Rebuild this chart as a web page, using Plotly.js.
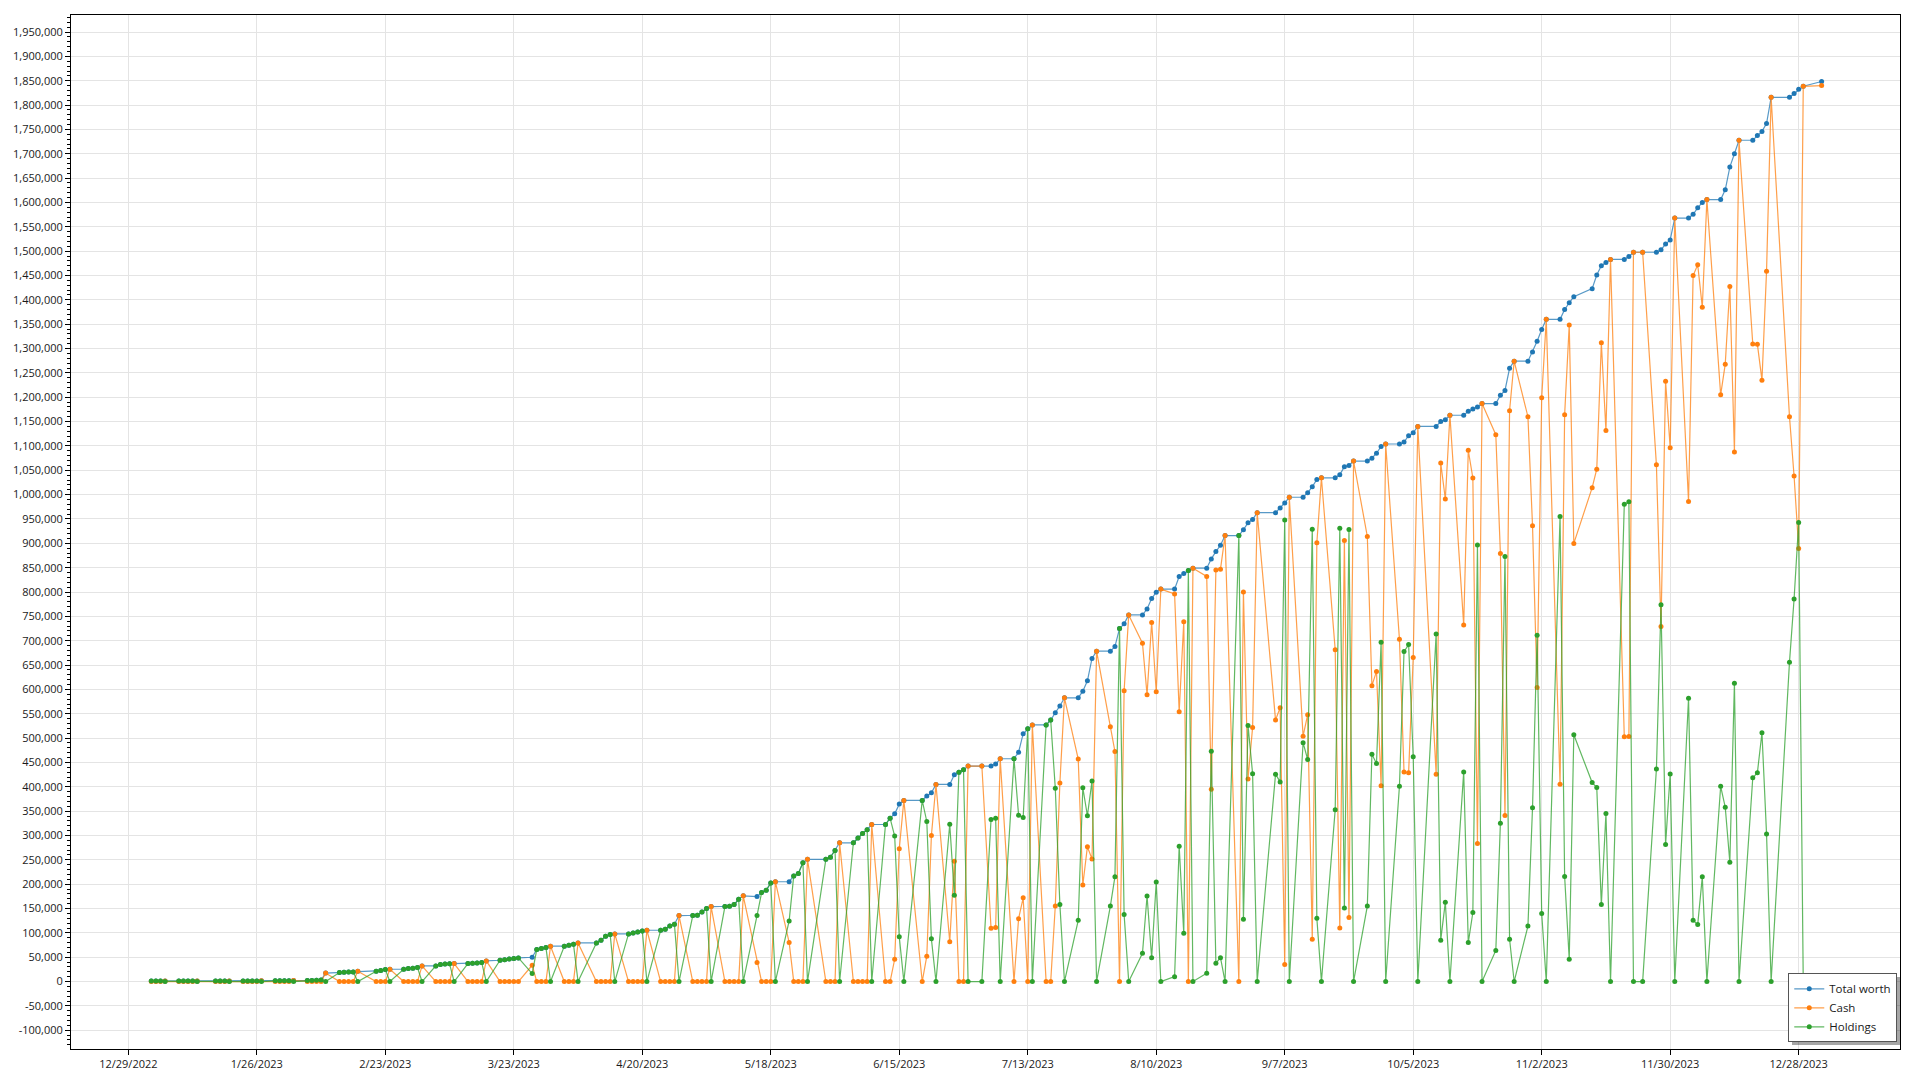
<!DOCTYPE html>
<html>
<head>
<meta charset="utf-8">
<script src="https://cdn.plot.ly/plotly-3.0.1.min.js"></script>
<style>
html,body{margin:0;padding:0;background:#fff;}
#chart{width:1920px;height:1080px;}
</style>
</head>
<body>
<div id="chart"></div>
<script>
// ---- Data ----
const dates = [
 // Jan 2023
 '2023-01-03','2023-01-04','2023-01-05','2023-01-06','2023-01-09','2023-01-10','2023-01-11','2023-01-12','2023-01-13','2023-01-17','2023-01-18','2023-01-19','2023-01-20','2023-01-23','2023-01-24','2023-01-25','2023-01-26','2023-01-27','2023-01-30','2023-01-31',
 // Feb
 '2023-02-01','2023-02-02','2023-02-03','2023-02-06','2023-02-07','2023-02-08','2023-02-09','2023-02-10','2023-02-13','2023-02-14','2023-02-15','2023-02-16','2023-02-17','2023-02-21','2023-02-22','2023-02-23','2023-02-24','2023-02-27','2023-02-28',
 // Mar
 '2023-03-01','2023-03-02','2023-03-03','2023-03-06','2023-03-07','2023-03-08','2023-03-09','2023-03-10','2023-03-13','2023-03-14','2023-03-15','2023-03-16','2023-03-17','2023-03-20','2023-03-21','2023-03-22','2023-03-23','2023-03-24','2023-03-27','2023-03-28','2023-03-29','2023-03-30','2023-03-31',
 // Apr
 '2023-04-03','2023-04-04','2023-04-05','2023-04-06','2023-04-10','2023-04-11','2023-04-12','2023-04-13','2023-04-14','2023-04-17','2023-04-18','2023-04-19','2023-04-20','2023-04-21','2023-04-24','2023-04-25','2023-04-26','2023-04-27','2023-04-28',
 // May
 '2023-05-01','2023-05-02','2023-05-03','2023-05-04','2023-05-05','2023-05-08','2023-05-09','2023-05-10','2023-05-11','2023-05-12','2023-05-15','2023-05-16','2023-05-17','2023-05-18','2023-05-19','2023-05-22','2023-05-23','2023-05-24','2023-05-25','2023-05-26','2023-05-30','2023-05-31',
 // Jun
 '2023-06-01','2023-06-02','2023-06-05','2023-06-06','2023-06-07','2023-06-08','2023-06-09','2023-06-12','2023-06-13','2023-06-14','2023-06-15','2023-06-16','2023-06-20','2023-06-21','2023-06-22','2023-06-23','2023-06-26','2023-06-27','2023-06-28','2023-06-29','2023-06-30',
 // Jul
 '2023-07-03','2023-07-05','2023-07-06','2023-07-07','2023-07-10','2023-07-11','2023-07-12','2023-07-13','2023-07-14','2023-07-17','2023-07-18','2023-07-19','2023-07-20','2023-07-21','2023-07-24','2023-07-25','2023-07-26','2023-07-27','2023-07-28','2023-07-31',
 // Aug
 '2023-08-01','2023-08-02','2023-08-03','2023-08-04','2023-08-07','2023-08-08','2023-08-09','2023-08-10','2023-08-11','2023-08-14','2023-08-15','2023-08-16','2023-08-17','2023-08-18','2023-08-21','2023-08-22','2023-08-23','2023-08-24','2023-08-25','2023-08-28','2023-08-29','2023-08-30','2023-08-31',
 // Sep
 '2023-09-01','2023-09-05','2023-09-06','2023-09-07','2023-09-08','2023-09-11','2023-09-12','2023-09-13','2023-09-14','2023-09-15','2023-09-18','2023-09-19','2023-09-20','2023-09-21','2023-09-22','2023-09-25','2023-09-26','2023-09-27','2023-09-28','2023-09-29',
 // Oct
 '2023-10-02','2023-10-03','2023-10-04','2023-10-05','2023-10-06','2023-10-10','2023-10-11','2023-10-12','2023-10-13','2023-10-16','2023-10-17','2023-10-18','2023-10-19','2023-10-20','2023-10-23','2023-10-24','2023-10-25','2023-10-26','2023-10-27','2023-10-30','2023-10-31',
 // Nov
 '2023-11-01','2023-11-02','2023-11-03','2023-11-06','2023-11-07','2023-11-08','2023-11-09','2023-11-13','2023-11-14','2023-11-15','2023-11-16','2023-11-17','2023-11-20','2023-11-21','2023-11-22','2023-11-24','2023-11-27','2023-11-28','2023-11-29','2023-11-30',
 // Dec + Jan 2024
 '2023-12-01','2023-12-04','2023-12-05','2023-12-06','2023-12-07','2023-12-08','2023-12-11','2023-12-12','2023-12-13','2023-12-14','2023-12-15','2023-12-18','2023-12-19','2023-12-20','2023-12-21','2023-12-22','2023-12-26','2023-12-27','2023-12-28','2023-12-29','2024-01-02'
];

const totalWorth = [
 1000,1005,1010,1020,1030,1050,1060,1080,1100,1120,1150,1180,1200,1250,1300,1350,1400,1500,1600,1700,
 1800,1900,2000,2200,2400,2700,3000,17500,18500,19200,19500,19800,21200,21200,22600,24600,25300,25300,26700,
 27400,28700,32200,32200,34900,36300,36500,37000,37000,37600,38300,39000,42400,43800,45000,46500,47600,48600,49900,65700,67800,69800,72600,
 72600,74600,76700,79400,79400,84900,93100,96500,97900,97900,99900,102000,104000,105400,105400,107500,114300,117700,135500,
 135500,136200,143000,150000,154000,154000,154700,158000,169000,176000,174500,182800,187500,202600,205000,205000,217000,221800,244000,251000,251000,255500,
 269000,285000,285000,295000,304000,312000,322600,322600,335600,344500,364400,372000,372000,381000,387700,404800,404800,424700,430000,435000,442500,
 442500,442500,446600,457600,457600,471000,509000,519000,527000,527000,537000,552000,566000,582800,582800,596400,617600,663500,678500,678500,
 688000,725000,734600,753000,753000,765000,786600,799600,806000,806000,832000,838000,844000,849000,849000,868000,883000,896000,916000,916000,928000,942000,949000,
 963000,963000,972500,983000,994600,994600,1004000,1016000,1031000,1034600,1034600,1041000,1057000,1060000,1069000,1069000,1074700,1085000,1099000,1104000,
 1104000,1108000,1121000,1127000,1140000,1140000,1150000,1154000,1163000,1163000,1171000,1176000,1180000,1187000,1187000,1204000,1214000,1259500,1274000,1274000,1293000,
 1315000,1339000,1360000,1360000,1380000,1394000,1406500,1423000,1451000,1470000,1476700,1483000,1483000,1489000,1497800,1497800,1497800,1503000,1514500,1523000,
 1568000,1568000,1575700,1589000,1600000,1606000,1606000,1626000,1672600,1700000,1727800,1727800,1737600,1746000,1762000,1816000,1816000,1824000,1832500,1838600,1848500
];

const cash = [
 0,0,0,1020,0,0,0,0,1100,0,0,0,1200,0,0,0,0,1500,0,0,
 0,0,2000,0,0,0,0,17500,0,0,0,0,21200,0,0,0,25300,0,0,
 0,0,32200,0,0,0,0,37000,0,0,0,0,42400,0,0,0,0,0,33500,0,0,0,72600,
 0,0,0,79400,0,0,0,0,97900,0,0,0,0,105400,0,0,0,0,135500,
 0,0,0,0,154000,0,0,0,0,176000,39000,0,0,0,205000,80400,0,0,0,251000,0,0,
 0,285000,0,0,0,0,322600,0,0,45800,272600,372000,0,52200,300000,404800,81800,247300,0,0,442500,
 442500,109500,111000,457600,0,129200,172000,0,527000,0,0,155000,408000,582800,457000,198400,277000,251700,678500,523500,
 472500,0,597100,753000,695000,589200,737600,595100,806000,796000,554000,739000,0,849000,832000,395000,845400,847000,916000,0,800000,416000,522000,
 963000,537000,562500,35000,994600,504000,548000,87000,901000,1034600,681600,110000,906000,131500,1069000,914000,607700,637000,402000,1104000,
 703000,430300,429000,665500,1140000,426000,1065000,991000,1163000,732500,1091000,1034300,283400,1187000,1123000,879000,341000,1172500,1274000,1160000,936000,
 604000,1199000,1360000,405000,1164300,1348300,899800,1014300,1052300,1312000,1131700,1483000,503000,503500,1497800,1497800,1061300,729000,1232800,1096500,
 1568000,986000,1449900,1472000,1385000,1606000,1205000,1268000,1427600,1087500,1727800,1309100,1309000,1235000,1459000,1816000,1160000,1038300,889500,1838600,1840000
];

const holdings = [
 1000,1005,1010,0,1030,1050,1060,1080,0,1120,1150,1180,0,1250,1300,1350,1400,0,1600,1700,
 1800,1900,0,2200,2400,2700,3000,0,18500,19200,19500,19800,0,21200,22600,24600,0,25300,26700,
 27400,28700,0,32200,34900,36300,36500,0,37000,37600,38300,39000,0,43800,45000,46500,47600,48600,16400,65700,67800,69800,0,
 72600,74600,76700,0,79400,84900,93100,96500,0,97900,99900,102000,104000,0,105400,107500,114300,117700,0,
 135500,136200,143000,150000,0,154000,154700,158000,169000,0,135500,182800,187500,202600,0,124600,217000,221800,244000,0,251000,255500,
 269000,0,285000,295000,304000,312000,0,322600,335600,298700,91800,0,372000,328800,87700,0,323000,177400,430000,435000,0,
 0,333000,335600,0,457600,341800,337000,519000,0,527000,537000,397000,158000,0,125800,398000,340600,411800,0,155000,
 215500,725000,137500,0,58000,175800,49000,204500,0,10000,278000,99000,844000,0,17000,473000,37600,49000,0,916000,128000,526000,427000,
 0,426000,410000,948000,0,490600,456000,929000,130000,0,353000,931000,151000,928500,0,155000,467000,448000,697000,0,
 401000,677700,692000,461500,0,714000,85000,163000,0,430500,80000,141700,896600,0,64000,325000,873000,87000,0,114000,357000,
 711000,140000,0,955000,215700,45700,506700,408700,398700,158000,345000,0,980000,985500,0,0,436500,774000,281700,426500,
 0,582000,125800,117000,215000,0,401000,358000,245000,612500,0,418700,428600,511000,303000,0,656000,785700,943000,0,8500
];

const seriesNames = ['Total worth', 'Cash', 'Holdings'];

const yTickValues = [-100000,-50000,0,50000,100000,150000,200000,250000,300000,350000,400000,450000,500000,550000,600000,650000,700000,750000,800000,850000,900000,950000,1000000,1050000,1100000,1150000,1200000,1250000,1300000,1350000,1400000,1450000,1500000,1550000,1600000,1650000,1700000,1750000,1800000,1850000,1900000,1950000];
const yTickLabels = yTickValues.map(v => (v < 0 ? '-' : '') + Math.abs(v).toLocaleString('en-US'));

// ---- Styles ----
const colors = ['#1f77b4', '#ff7f0e', '#2ca02c'];
const lineColors = ['rgba(31,119,180,0.75)', 'rgba(255,127,14,0.75)', 'rgba(44,160,44,0.75)'];
const seriesValues = [totalWorth, cash, holdings];

const traces = seriesValues.map((vals, i) => ({
  type: 'scatter',
  mode: 'lines+markers',
  name: seriesNames[i],
  x: dates,
  y: vals,
  line: {color: lineColors[i], width: 1.2},
  marker: {color: colors[i], size: 5, line: {width: 0}}
}));

const fontFam = '"Open Sans", "Noto Sans", "DejaVu Sans", sans-serif';

const layout = {
  width: 1920, height: 1080,
  margin: {l: 71, r: 20, t: 15, b: 31},
  paper_bgcolor: '#ffffff',
  plot_bgcolor: '#ffffff',
  font: {family: fontFam, size: 11, color: '#1a1a1a'},
  showlegend: true,
  legend: {
    x: 0.9985, xanchor: 'right', y: 0.0065, yanchor: 'bottom',
    bgcolor: '#ffffff', bordercolor: '#555555', borderwidth: 1,
    font: {family: fontFam, size: 11.5, color: '#1a1a1a'},
    tracegroupgap: 0, itemwidth: 30
  },
  xaxis: {
    type: 'date',
    range: ['2022-12-16 12:00', '2024-01-19 02:00'],
    tickmode: 'linear', tick0: '2022-12-29', dtick: 28 * 86400000,
    tickformat: '%-m/%-d/%Y',
    showgrid: true, gridcolor: '#e4e4e4', gridwidth: 1,
    showline: true, linecolor: '#000000', linewidth: 1, mirror: true,
    ticks: 'outside', ticklen: 5, tickcolor: '#000000', tickwidth: 1,
    zeroline: false,
    tickfont: {family: fontFam, size: 11, color: '#1a1a1a'}
  },
  yaxis: {
    range: [-138500, 1985000],
    tickmode: 'array', tickvals: yTickValues, ticktext: yTickLabels,
    showgrid: true, gridcolor: '#e4e4e4', gridwidth: 1,
    showline: true, linecolor: '#000000', linewidth: 1, mirror: true,
    ticks: 'outside', ticklen: 5, tickcolor: '#000000', tickwidth: 1,
    zeroline: false,
    minor: {tickmode: 'linear', tick0: 0, dtick: 10000, ticks: 'outside', ticklen: 3, tickcolor: '#000000', showgrid: false},
    tickfont: {family: fontFam, size: 11, color: '#1a1a1a'}
  }
};

Plotly.newPlot('chart', traces, layout, {displayModeBar: false, staticPlot: true}).then(() => {
  const bg = document.querySelector('.legend .bg');
  if (bg) {
    const sh = bg.cloneNode(false);
    sh.setAttribute('class', 'legend-shadow');
    sh.setAttribute('transform', (bg.getAttribute('transform') || '') + ' translate(3,3)');
    sh.style.fill = 'rgba(0,0,0,0.35)';
    sh.style.stroke = 'none';
    bg.parentNode.insertBefore(sh, bg);
  }
});
</script>
</body>
</html>
